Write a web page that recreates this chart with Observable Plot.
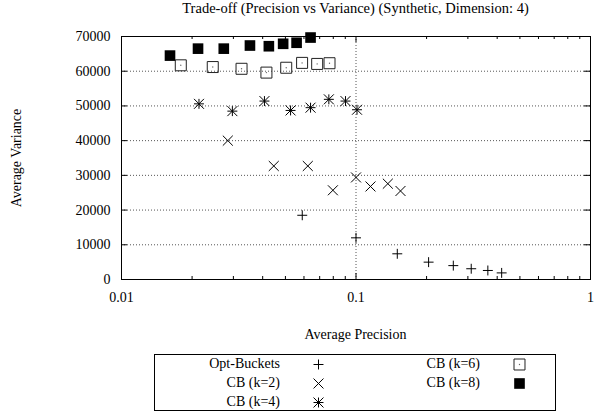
<!DOCTYPE html>
<html><head><meta charset="utf-8">
<script src="https://cdn.jsdelivr.net/npm/d3@7"></script>
<script src="https://cdn.jsdelivr.net/npm/@observablehq/plot@0.6"></script>
<style>
html,body{margin:0;padding:0;background:#fff;}
#wrap{position:relative;width:604px;height:417px;font-family:"Liberation Serif","Times New Roman",serif;color:#000;overflow:hidden;background:#fff}
#wrap svg.main{position:absolute;left:0;top:0}
#wrap svg text{font-family:"Liberation Serif","Times New Roman",serif !important;}
.t{position:absolute;white-space:nowrap;line-height:14px;font-size:14px;font-family:"Liberation Serif","Times New Roman",serif;}
#legend{position:absolute;left:154px;top:354px;width:400px;height:55px;border:1px solid #000;}
</style></head><body><div id="wrap"></div>
<script>
// ---- data ----
const titleText = "Trade-off (Precision vs Variance) (Synthetic, Dimension: 4)";
const xLabel = "Average Precision";
const yLabel = "Average Variance";

const seriesNames = ["Opt-Buckets", "CB (k=2)", "CB (k=4)", "CB (k=6)", "CB (k=8)"];

const optX = [0.059, 0.100, 0.150, 0.204, 0.260, 0.310, 0.365, 0.418];
const optY = [18500, 12000, 7400, 5000, 4000, 3100, 2600, 1900];

const cb2X = [0.0284, 0.0446, 0.0623, 0.0797, 0.100, 0.1153, 0.1367, 0.1548];
const cb2Y = [40000, 32700, 32700, 25700, 29400, 26800, 27600, 25500];

const cb4X = [0.0214, 0.0297, 0.0407, 0.0526, 0.0640, 0.0766, 0.0902, 0.1010];
const cb4Y = [50600, 48500, 51400, 48700, 49500, 51900, 51400, 48900];

const cb6X = [0.0179, 0.0245, 0.0325, 0.0415, 0.0504, 0.0589, 0.0683, 0.0771];
const cb6Y = [61700, 61200, 60700, 59600, 61000, 62400, 62100, 62300];

const cb8X = [0.0161, 0.0212, 0.0273, 0.0353, 0.0425, 0.0489, 0.0558, 0.0640];
const cb8Y = [64500, 66500, 66500, 67400, 67200, 67900, 68200, 69700];

const xTicks = [0.01, 0.1, 1];
const xTickLabels = ["0.01", "0.1", "1"];
const xMinorTicks = [0.02, 0.03, 0.04, 0.05, 0.06, 0.07, 0.08, 0.09, 0.2, 0.3, 0.4, 0.5, 0.6, 0.7, 0.8, 0.9];
const yTicks = [0, 10000, 20000, 30000, 40000, 50000, 60000, 70000];
const yTickLabels = ["0", "10000", "20000", "30000", "40000", "50000", "60000", "70000"];
const xGrid = [0.1];
const yGrid = [10000, 20000, 30000, 40000, 50000, 60000];

// ---- layout ----
const W = 604, H = 417, mL = 121, mR = 14, mT = 36, mB = 138;
const fh = H - mT - mB, fw = W - mL - mR;
const FONT = '"Liberation Serif","Times New Roman",serif';

const toRows = (xs, ys) => xs.map((x, i) => ({x, y: ys[i]}));
const opt = toRows(optX, optY), cb2 = toRows(cb2X, cb2Y), cb4 = toRows(cb4X, cb4Y),
      cb6 = toRows(cb6X, cb6Y), cb8 = toRows(cb8X, cb8Y);

const R = {plus: 3.3, times: 4.6, square2: 7.0, square: 6.0};
const gridStyle = {stroke: "#555", strokeWidth: 1, strokeDasharray: "1,2"};

const chart = Plot.plot({
  width: W, height: H, marginLeft: mL, marginRight: mR, marginTop: mT, marginBottom: mB,
  x: {type: "log", domain: [0.01, 1]},
  y: {domain: [0, 70000]},
  style: {fontFamily: FONT, fontSize: "14px", background: "white", color: "black", overflow: "visible"},
  marks: [
    Plot.ruleY(yGrid, {y: d => d, ...gridStyle}),
    Plot.ruleX(xGrid, {x: d => d, ...gridStyle}),
    Plot.tickX(xTicks, {x: d => d, insetTop: fh - 6, stroke: "black"}),
    Plot.tickX(xTicks, {x: d => d, insetBottom: fh - 6, stroke: "black"}),
    Plot.tickX(xMinorTicks, {x: d => d, insetTop: fh - 3, stroke: "black"}),
    Plot.tickX(xMinorTicks, {x: d => d, insetBottom: fh - 3, stroke: "black"}),
    Plot.tickY(yTicks, {y: d => d, insetRight: fw - 6, stroke: "black"}),
    Plot.tickY(yTicks, {y: d => d, insetLeft: fw - 6, stroke: "black"}),
    Plot.frame({stroke: "black"}),
    Plot.axisX(xTicks, {tickSize: 0, tickPadding: 13, tickFormat: (d) => xTickLabels[xTicks.indexOf(d)], label: null, fontSize: 14, fontFamily: FONT}),
    Plot.axisY(yTicks, {tickSize: 0, tickPadding: 11, tickFormat: (d) => yTickLabels[yTicks.indexOf(d)], label: null, fontSize: 14, fontFamily: FONT}),
    // Opt-Buckets (+)
    Plot.dot(opt, {x: "x", y: "y", symbol: "plus", r: R.plus, stroke: "black", strokeWidth: 1}),
    // CB k=2 (x)
    Plot.dot(cb2, {x: "x", y: "y", symbol: "times", r: R.times, stroke: "black", strokeWidth: 1}),
    // CB k=4 (* = + and x)
    Plot.dot(cb4, {x: "x", y: "y", symbol: "plus", r: R.plus, stroke: "black", strokeWidth: 1}),
    Plot.dot(cb4, {x: "x", y: "y", symbol: "times", r: R.times, stroke: "black", strokeWidth: 1}),
    // CB k=6 (open square with dot)
    Plot.dot(cb6, {x: "x", y: "y", symbol: "square2", r: R.square2, stroke: "#222", strokeWidth: 1, fill: "none"}),
    Plot.dot(cb6, {x: "x", y: "y", r: 0.7, fill: "#666", stroke: "none"}),
    // CB k=8 (filled square)
    Plot.dot(cb8, {x: "x", y: "y", symbol: "square", r: R.square, fill: "black", stroke: "none"})
  ]
});
chart.classList.add("main");
d3.select(chart).selectAll("text").style("font-family", FONT);
const wrap = document.getElementById("wrap");
wrap.appendChild(chart);

// ---- HTML text: title, axis labels ----
function addText(txt, css) {
  const d = document.createElement("div");
  d.className = "t";
  d.textContent = txt;
  Object.assign(d.style, css);
  wrap.appendChild(d);
  return d;
}
addText(titleText, {left: (mL + fw / 2) + "px", top: "1px", transform: "translateX(-50%)", fontSize: "14.5px", lineHeight: "14.5px"});
addText(xLabel, {left: (mL + fw / 2) + "px", top: "328px", transform: "translateX(-50%)"});
addText(yLabel, {left: "17px", top: "158px", transform: "translate(-50%,-50%) rotate(-90deg)"});

// ---- legend ----
const legend = document.createElement("div");
legend.id = "legend";
wrap.appendChild(legend);
const legendSymbols = [
  [{s: d3.symbolPlus, r: R.plus, stroke: "black", fill: "none"}],
  [{s: d3.symbolTimes, r: R.times, stroke: "black", fill: "none"}],
  [{s: d3.symbolPlus, r: R.plus, stroke: "black", fill: "none"}, {s: d3.symbolTimes, r: R.times, stroke: "black", fill: "none"}],
  [{s: d3.symbolSquare2, r: R.square2, stroke: "#222", fill: "none"}, {s: d3.symbolCircle, r: 0.7, stroke: "none", fill: "#666"}],
  [{s: d3.symbolSquare, r: R.square, stroke: "none", fill: "black"}]
];
const rowY = [364, 383.3, 401.7];
const colTextRight = [280, 480];
const colSym = [318, 519];
seriesNames.forEach((name, i) => {
  const col = i < 3 ? 0 : 1, row = i < 3 ? i : i - 3;
  const cy = rowY[row];
  addText(name, {right: (W - colTextRight[col]) + "px", top: (cy - 7) + "px", textAlign: "right"});
  const svg = d3.create("svg").attr("width", 20).attr("height", 20)
    .style("position", "absolute").style("left", (colSym[col] - 10) + "px").style("top", (cy - 10) + "px");
  legendSymbols[i].forEach(o => {
    svg.append("path").attr("transform", "translate(10.5,10.5)")
      .attr("d", d3.symbol(o.s, o.r * o.r * Math.PI)())
      .attr("fill", o.fill).attr("stroke", o.stroke).attr("stroke-width", 1);
  });
  wrap.appendChild(svg.node());
});
</script>
</body></html>
